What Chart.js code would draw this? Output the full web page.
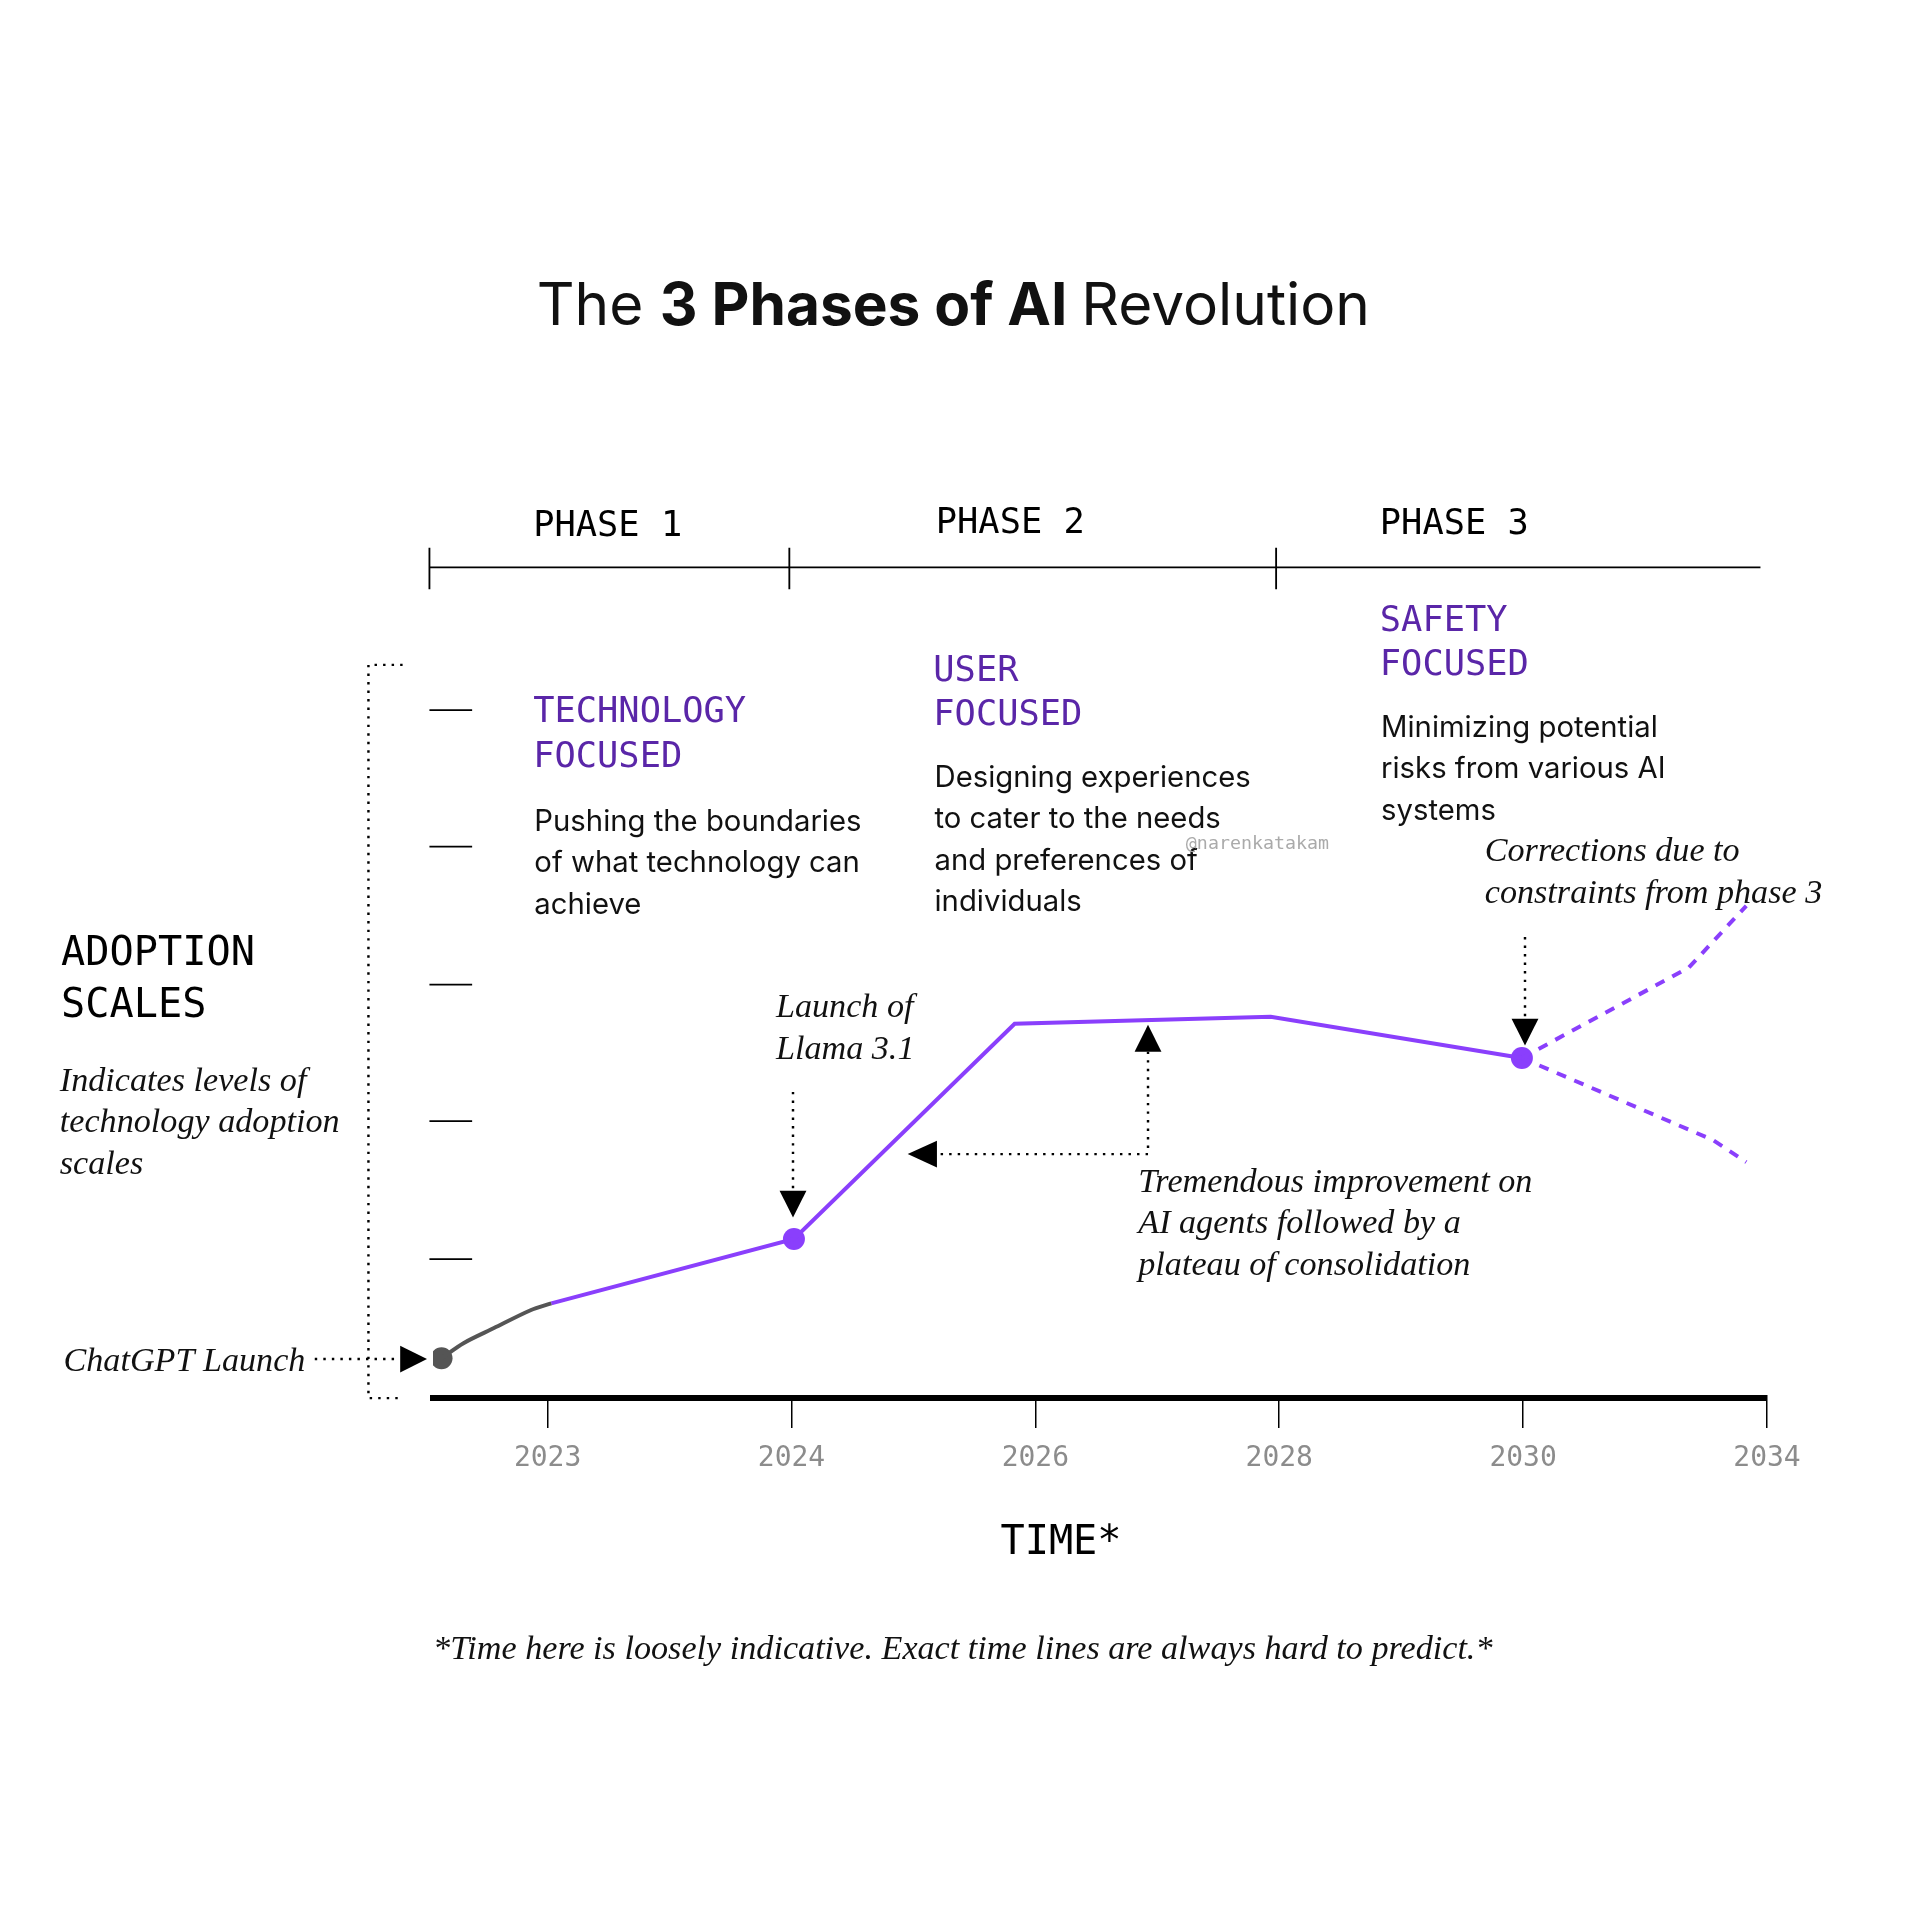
<!DOCTYPE html>
<html>
<head>
<meta charset="utf-8">
<style>
  html, body { margin: 0; padding: 0; background: #fff; }
  #wrap { width: 1914px; height: 1914px; }
</style>
<script src="https://cdn.jsdelivr.net/npm/chart.js@4"></script>
</head>
<body>
<div id="wrap"><canvas id="aiChart" width="1914" height="1914"></canvas></div>
<script>
// x positions are in "tick slots": 0 = 2023, 1 = 2024 ... 5 = 2034
const tickLabels = ['2023', '2024', '2026', '2028', '2030', '2034'];
const earlyPath = [[-0.435, 0.29], [-0.345, 0.4], [-0.22, 0.51], [-0.07, 0.64], [0.015, 0.69]];
const mainPath = [[0.015, 0.69], [1.01, 1.16], [1.915, 2.73], [2.965, 2.78], [3.995, 2.48]];
const upperBranch = [[3.995, 2.48], [4.68, 3.14], [4.915, 3.59]];
const lowerBranch = [[3.995, 2.48], [4.78, 1.88], [4.915, 1.72]];
const markerPoints = [[1.01, 1.16], [3.995, 2.48]];
const launchPoint = [[-0.435, 0.29]];

const S = 1.22;
const PURPLE = '#8a3ffc';
const HEAD = '#5a26a8';
const MONO = '"DejaVu Sans Mono", "Liberation Mono", monospace';
const SANS = 'Inter, "Noto Sans", sans-serif';
const SERIF = '"Liberation Serif", "DejaVu Serif", serif';

const toXY = (arr) => arr.map(([x, y]) => ({ x, y }));

function txt(ctx, lines, x, y, font, color, step) {
  ctx.font = font;
  ctx.fillStyle = color;
  lines.forEach((l, i) => ctx.fillText(l, x, y + i * step));
}
function dotted(ctx, pts) {
  ctx.save();
  ctx.setLineDash([2, 5]);
  ctx.lineWidth = 2;
  ctx.strokeStyle = '#000';
  ctx.beginPath();
  pts.forEach(([x, y], i) => (i ? ctx.lineTo(x, y) : ctx.moveTo(x, y)));
  ctx.stroke();
  ctx.restore();
}
function tri(ctx, pts) {
  ctx.fillStyle = '#000';
  ctx.beginPath();
  pts.forEach(([x, y], i) => (i ? ctx.lineTo(x, y) : ctx.moveTo(x, y)));
  ctx.closePath();
  ctx.fill();
}

const decor = {
  id: 'decor',
  beforeDraw(chart) {
    const ctx = chart.ctx;
    ctx.save();
    ctx.fillStyle = '#fff';
    ctx.fillRect(0, 0, chart.width, chart.height);
    ctx.restore();
  },
  afterDraw(chart) {
    const ctx = chart.ctx;
    ctx.save();
    ctx.scale(S, S);
    ctx.textBaseline = 'alphabetic';

    // title
    let x = 440;
    ctx.fillStyle = '#111';
    ctx.font = `400 48px ${SANS}`;
    ctx.fillText('The ', x, 266);
    x += ctx.measureText('The ').width;
    ctx.font = `700 48px ${SANS}`;
    ctx.fillText('3 Phases of AI', x, 266);
    x += ctx.measureText('3 Phases of AI ').width;
    ctx.font = `400 48px ${SANS}`;
    ctx.fillText('Revolution', x, 266);

    // phase bar
    ctx.strokeStyle = '#000';
    ctx.lineWidth = 1.5;
    ctx.beginPath();
    ctx.moveTo(352, 465); ctx.lineTo(1443, 465);
    [352, 647, 1046].forEach((px) => { ctx.moveTo(px, 449); ctx.lineTo(px, 483); });
    ctx.stroke();
    txt(ctx, ['PHASE 1'], 437, 439, `29px ${MONO}`, '#000', 0);
    txt(ctx, ['PHASE 2'], 767, 437, `29px ${MONO}`, '#000', 0);
    txt(ctx, ['PHASE 3'], 1131, 438, `29px ${MONO}`, '#000', 0);

    // phase headings and body
    txt(ctx, ['TECHNOLOGY', 'FOCUSED'], 437, 592, `29px ${MONO}`, HEAD, 37);
    txt(ctx, ['USER', 'FOCUSED'], 765, 558, `29px ${MONO}`, HEAD, 36);
    txt(ctx, ['SAFETY', 'FOCUSED'], 1131, 517, `29px ${MONO}`, HEAD, 36);
    txt(ctx, ['Pushing the boundaries', 'of what technology can', 'achieve'], 438, 681, `24px ${SANS}`, '#111', 34);
    txt(ctx, ['Designing experiences', 'to cater to the needs', 'and preferences of', 'individuals'], 766, 645, `24px ${SANS}`, '#111', 34);
    txt(ctx, ['Minimizing potential', 'risks from various AI', 'systems'], 1132, 604, `24px ${SANS}`, '#111', 34);
    txt(ctx, ['@narenkatakam'], 972, 696, `15px ${MONO}`, '#aaa', 0);

    // annotations
    const it = `italic 28px ${SERIF}`;
    txt(ctx, ['Corrections due to', 'constraints from phase 3'], 1217, 706, it, '#111', 34);
    txt(ctx, ['Launch of', 'Llama 3.1'], 636, 834, it, '#111', 34);
    txt(ctx, ['Tremendous improvement on', 'AI agents followed by a', 'plateau of consolidation'], 933, 977, it, '#111', 34);
    txt(ctx, ['ADOPTION', 'SCALES'], 50, 791, `33px ${MONO}`, '#000', 43);
    txt(ctx, ['Indicates levels of', 'technology adoption', 'scales'], 49, 894, it, '#111', 34);
    txt(ctx, ['ChatGPT Launch'], 52, 1124, it, '#111', 0);
    txt(ctx, ['TIME*'], 820, 1274, `33px ${MONO}`, '#000', 0);
    txt(ctx, ['*Time here is loosely indicative. Exact time lines are always hard to predict.*'], 355, 1360, it, '#111', 0);

    // adoption scale bracket and dashes
    dotted(ctx, [[330, 545], [302, 545], [302, 1146], [330, 1146]]);
    ctx.strokeStyle = '#000';
    ctx.lineWidth = 1.5;
    ctx.beginPath();
    [582, 694, 807, 919, 1032].forEach((py) => { ctx.moveTo(352, py); ctx.lineTo(387, py); });
    ctx.stroke();

    // arrows
    dotted(ctx, [[258, 1114], [328, 1114]]);
    tri(ctx, [[328, 1103], [350, 1114], [328, 1125]]);
    dotted(ctx, [[650, 895], [650, 976]]);
    tri(ctx, [[639, 976], [661, 976], [650, 998]]);
    dotted(ctx, [[1250, 768], [1250, 835]]);
    tri(ctx, [[1239, 835], [1261, 835], [1250, 857]]);
    dotted(ctx, [[941, 862], [941, 946], [768, 946]]);
    tri(ctx, [[930, 862], [952, 862], [941, 840]]);
    tri(ctx, [[768, 935], [768, 957], [744, 946]]);

    ctx.restore();
  },
};

new Chart(document.getElementById('aiChart'), {
  type: 'scatter',
  data: {
    datasets: [
      { data: toXY(earlyPath), showLine: true, borderColor: '#555', borderWidth: 4, pointRadius: 0, tension: 0.3 },
      { data: toXY(mainPath), showLine: true, borderColor: PURPLE, borderWidth: 4, pointRadius: 0 },
      { data: toXY(upperBranch), showLine: true, borderColor: PURPLE, borderWidth: 4, borderDash: [10, 9], pointRadius: 0 },
      { data: toXY(lowerBranch), showLine: true, borderColor: PURPLE, borderWidth: 4, borderDash: [10, 9], pointRadius: 0 },
      { data: toXY(markerPoints), pointRadius: 11, pointBackgroundColor: PURPLE, pointBorderWidth: 0 },
      { data: toXY(launchPoint), pointRadius: 11, pointBackgroundColor: '#555', pointBorderWidth: 0 },
    ],
  },
  options: {
    responsive: false,
    animation: false,
    devicePixelRatio: 1,
    layout: { padding: { left: 433, right: 147, top: 659, bottom: 416 } },
    plugins: { legend: { display: false }, tooltip: { enabled: false } },
    scales: {
      x: {
        type: 'linear',
        min: -0.47,
        max: 5.0,
        afterBuildTicks: (scale) => { scale.ticks = tickLabels.map((_, i) => ({ value: i })); },
        afterFit: (scale) => { scale.height = 100; },
        border: { display: true, color: '#000', width: 6 },
        grid: { drawOnChartArea: false, color: '#000', lineWidth: 1.5, tickLength: 30 },
        ticks: {
          callback: (v) => tickLabels[v] ?? '',
          color: '#8c8c8c',
          font: { family: MONO, size: 28 },
          padding: 14,
          maxRotation: 0,
          autoSkip: false,
        },
      },
      y: { display: false, min: 0, max: 5.39 },
    },
  },
  plugins: [decor],
});
</script>
</body>
</html>
